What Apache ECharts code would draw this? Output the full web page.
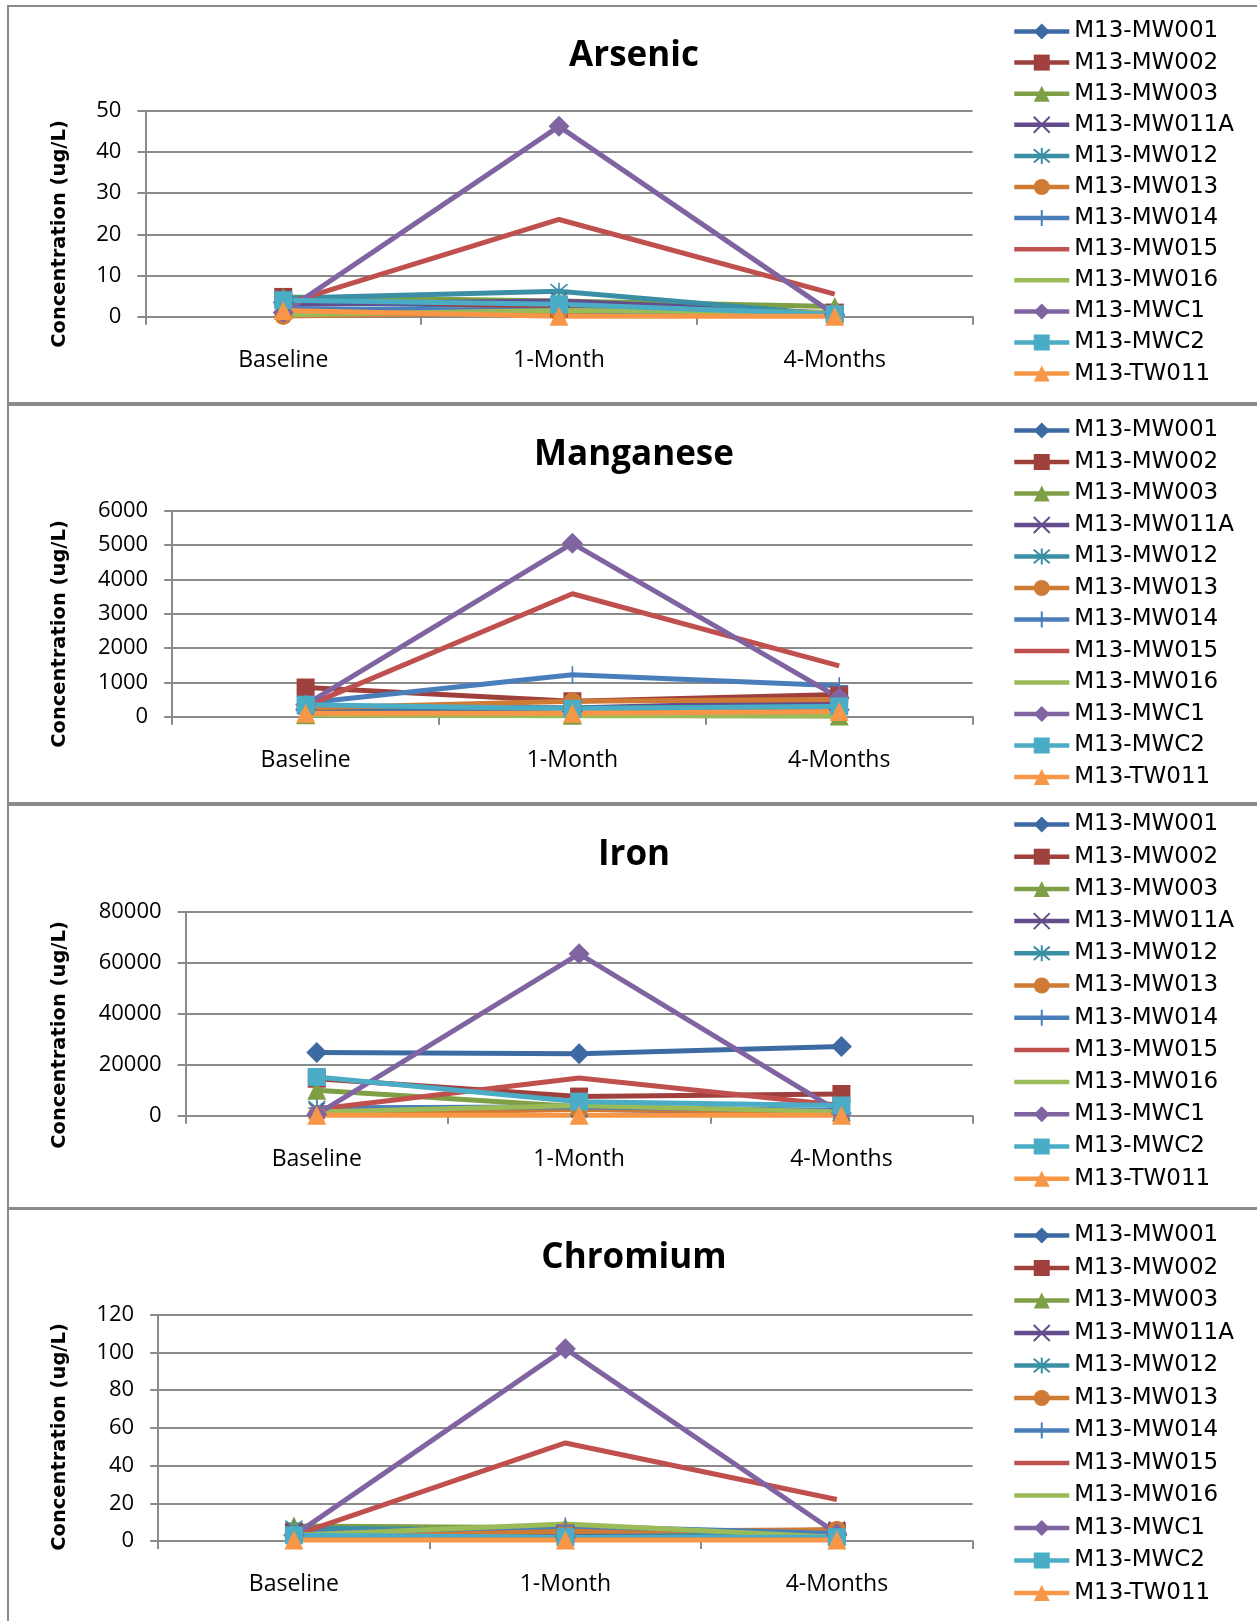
<!DOCTYPE html>
<html><head><meta charset="utf-8">
<script src="https://cdn.jsdelivr.net/npm/echarts@6/dist/echarts.min.js"></script>
<style>
html,body{margin:0;padding:0;background:#fff;overflow:hidden;width:1257px;height:1621px;}
.p{position:absolute;left:0;width:1257px;}
.hl{position:absolute;left:7px;width:1250px;background:#8a8a8a;z-index:5;}
.vl{position:absolute;left:7px;top:5px;width:2px;height:1616px;background:#8a8a8a;z-index:5;}
</style></head><body>
<div id="c0" class="p" style="top:0;height:402px"></div>
<div id="c1" class="p" style="top:404px;height:400px"></div>
<div id="c2" class="p" style="top:804px;height:404px"></div>
<div id="c3" class="p" style="top:1208px;height:413px"></div>
<div class="hl" style="top:5px;height:2px"></div>
<div class="hl" style="top:402px;height:4px"></div>
<div class="hl" style="top:802px;height:4px"></div>
<div class="hl" style="top:1207px;height:3px"></div>
<div class="vl"></div>
<script>
// ---- data ----
const categories = ['Baseline', '1-Month', '4-Months'];
const wells = ['M13-MW001','M13-MW002','M13-MW003','M13-MW011A','M13-MW012','M13-MW013',
               'M13-MW014','M13-MW015','M13-MW016','M13-MWC1','M13-MWC2','M13-TW011'];
const panelTitles = ['Arsenic', 'Manganese', 'Iron', 'Chromium'];
const yAxisTitle = 'Concentration (ug/L)';

const arsenicTicks = [0, 10, 20, 30, 40, 50];
const manganeseTicks = [0, 1000, 2000, 3000, 4000, 5000, 6000];
const ironTicks = [0, 20000, 40000, 60000, 80000];
const chromiumTicks = [0, 20, 40, 60, 80, 100, 120];

// rows follow "wells"; columns follow "categories"
const arsenicValues = [
  [3.5, 2.5, 0.5],
  [4.8, 2.0, 1.0],
  [4.8, 3.8, 2.5],
  [3.0, 3.8, 0.8],
  [4.5, 6.2, 0.5],
  [0.2, 1.0, 0.3],
  [2.0, 1.5, 0.5],
  [3.0, 23.6, 5.5],
  [0.5, 1.5, 1.0],
  [1.0, 46.2, 0.5],
  [4.0, 3.0, 0.6],
  [1.5, 0.1, 0.1]
];
const manganeseValues = [
  [200, 150, 200],
  [850, 450, 650],
  [60, 40, 20],
  [300, 250, 450],
  [300, 250, 300],
  [250, 450, 500],
  [400, 1220, 900],
  [300, 3580, 1480],
  [50, 30, 30],
  [350, 5050, 550],
  [350, 230, 300],
  [100, 100, 150]
];
const ironValues = [
  [24800, 24300, 27100],
  [14500, 7500, 8500],
  [10000, 3500, 1500],
  [2000, 2500, 1000],
  [3000, 3000, 1500],
  [500, 2500, 1500],
  [3000, 3500, 2000],
  [2500, 14800, 4000],
  [1500, 4000, 1500],
  [500, 63500, 1000],
  [15200, 5500, 4000],
  [200, 200, 200]
];
const chromiumValues = [
  [3, 2, 3],
  [5, 4, 5],
  [8, 7, 3],
  [5, 3, 6],
  [7, 5, 4],
  [3, 5, 6],
  [4, 8, 4],
  [3, 52, 22],
  [3, 9, 2],
  [3, 102, 4],
  [3, 2, 2],
  [0.5, 0.5, 0.5]
];

// ---- styles ----
const colors = ['#3D6AA2','#A0403D','#7E9F46','#634D8C','#3A8FA5','#CF7B36',
                '#4A7EBB','#C0504D','#9BBB59','#8064A2','#4BACC6','#F79646'];
const X_PATH = 'path://M0,0L10,10M10,0L0,10';
const STAR_PATH = 'path://M0,0L10,10M10,0L0,10M5,-1L5,11';
const PLUS_PATH = 'path://M5,0L5,10M0,5L10,5';
const LINE_ICON = 'path://M0,0H55V4.5H0Z';
const symbols = ['diamond','rect','triangle',X_PATH,STAR_PATH,'circle',PLUS_PATH,'none','none','diamond','rect','triangle'];
const symbolSizes = [21,18,19,16,17,18,17,0,0,21,18,19];
const strokeSymbol = [false,false,false,true,true,false,true,false,false,false,false,false];

const panels = [
  {values: arsenicValues, ticks: arsenicTicks, el: 'c0', left: 145.4, top: 110.7, width: 827.2, height: 206, titleY: 56, nameY: 234, legTop: 20, legGap: 8.1},
  {values: manganeseValues, ticks: manganeseTicks, el: 'c1', left: 172.2, top: 106.7, width: 800.4, height: 206, titleY: 51, nameY: 230, legTop: 15, legGap: 8.5},
  {values: ironValues, ticks: ironTicks, el: 'c2', left: 185.6, top: 107.7, width: 787, height: 204, titleY: 51, nameY: 231, legTop: 9, legGap: 9.2},
  {values: chromiumValues, ticks: chromiumTicks, el: 'c3', left: 158.2, top: 106.7, width: 814.4, height: 226.3, titleY: 50, nameY: 229, legTop: 16, legGap: 9.5}
];

const GRID = '#8a8a8a';

const legendData = wells.map((w, i) => symbols[i] === 'none' ? {name: w, icon: LINE_ICON} : {name: w});

panels.forEach((p, pi) => {
  const chart = echarts.init(document.getElementById(p.el), null, {renderer: 'canvas'});
  const ticks = p.ticks;
  const option = {
    animation: false,
    title: {
      text: panelTitles[pi], left: 634, top: p.titleY, padding: 0,
      textAlign: 'center', textVerticalAlign: 'middle',
      textStyle: {fontFamily: 'Open Sans', fontWeight: 'bold', fontSize: 35, color: '#000'}
    },
    legend: {
      orient: 'vertical', left: 1012, top: p.legTop, padding: 0,
      itemGap: p.legGap, itemWidth: 55, itemHeight: 20,
      lineStyle: {width: 4.5},
      textStyle: {fontFamily: 'DejaVu Sans', fontSize: 23, color: '#000'},
      data: legendData
    },
    grid: {left: p.left, top: p.top, width: p.width, height: p.height},
    xAxis: {
      type: 'category', data: categories, boundaryGap: true,
      axisLine: {lineStyle: {color: GRID, width: 2}},
      axisTick: {show: true, length: 8, lineStyle: {color: GRID, width: 2}},
      axisLabel: {margin: 32, fontFamily: 'Open Sans', fontSize: 23, color: '#000'}
    },
    yAxis: {
      type: 'value', min: ticks[0], max: ticks[ticks.length - 1], interval: ticks[1] - ticks[0],
      axisLine: {show: true, lineStyle: {color: GRID, width: 2}},
      axisTick: {show: true, length: 8, lineStyle: {color: GRID, width: 2}},
      splitLine: {show: true, lineStyle: {color: GRID, width: 2}},
      axisLabel: {margin: 24, fontFamily: 'Open Sans', fontSize: 22, color: '#000', formatter: v => String(v)}
    },
    graphic: [{
      type: 'text', x: 60, y: p.nameY, rotation: Math.PI / 2,
      style: {text: yAxisTitle, font: 'bold 19.5px "DejaVu Sans"', fill: '#000', align: 'center', verticalAlign: 'middle'}
    }],
    series: wells.map((w, i) => ({
      name: w, type: 'line', data: p.values[i],
      symbol: symbols[i], symbolSize: symbolSizes[i],
      showSymbol: symbols[i] !== 'none',
      lineStyle: {color: colors[i], width: 5},
      itemStyle: strokeSymbol[i]
        ? {color: colors[i], borderColor: colors[i], borderWidth: 1.6}
        : {color: colors[i], borderWidth: 0},
      emphasis: {disabled: true}
    }))
  };
  chart.setOption(option);
});
</script>
</body></html>
